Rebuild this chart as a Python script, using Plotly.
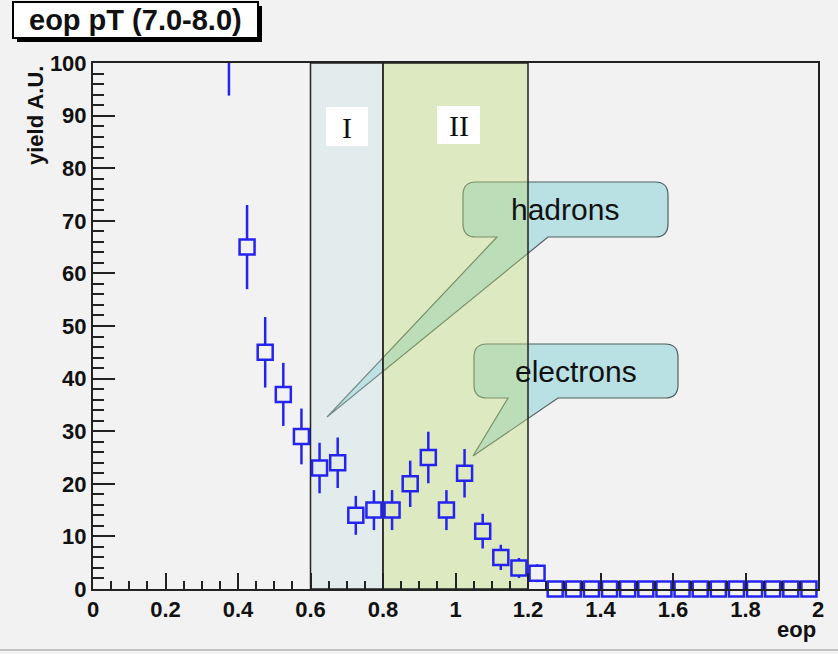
import plotly.graph_objects as go

# ---------------- data ----------------
eop_centers = [0.375, 0.425, 0.475, 0.525, 0.575, 0.625, 0.675, 0.725, 0.775,
               0.825, 0.875, 0.925, 0.975, 1.025, 1.075, 1.125, 1.175, 1.225,
               1.275, 1.325, 1.375, 1.425, 1.475, 1.525, 1.575, 1.625, 1.675,
               1.725, 1.775, 1.825, 1.875, 1.925, 1.975]
yield_vals = [104, 65, 45, 37, 29, 23, 24, 14, 15,
              15, 20, 25, 15, 22, 11, 6, 4, 3,
              0, 0, 0, 0, 0, 0, 0, 0, 0,
              0, 0, 0, 0, 0, 0]
yield_errs = [10.2, 8.0, 6.7, 6.0, 5.3, 4.8, 4.8, 3.7, 3.8,
              3.8, 4.4, 4.9, 3.8, 4.6, 3.3, 2.4, 1.9, 1.7,
              0, 0, 0, 0, 0, 0, 0, 0, 0,
              0, 0, 0, 0, 0, 0]

x_tickvals = [0, 0.2, 0.4, 0.6, 0.8, 1.0, 1.2, 1.4, 1.6, 1.8, 2.0]
x_ticktext = ["0", "0.2", "0.4", "0.6", "0.8", "1", "1.2", "1.4", "1.6", "1.8", "2"]
y_tickvals = [0, 10, 20, 30, 40, 50, 60, 70, 80, 90, 100]
y_ticktext = ["0", "10", "20", "30", "40", "50", "60", "70", "80", "90", "100"]

region_I = [0.6, 0.8]
region_II = [0.8, 1.2]
region_labels = ["I", "II"]
bubble_labels = ["hadrons", "electrons"]
title_text = "eop pT (7.0-8.0)"
x_title = "eop"
y_title = "yield A.U."

# ---------------- styles ----------------
W, H = 838, 654
L, R, T, B = 93, 20, 63, 65
BG = (242, 242, 242)
BLUE = "#2424ee"
REG_I_RGB, REG_I_A = (200, 225, 225), 0.35
REG_II_RGB, REG_II_A = (190, 220, 120), 0.40


def PX(px):
    return (px - L) / (W - L - R)


def PY(py):
    return (H - B - py) / (H - T - B)


def blend(rgb, a):
    return "rgb(%d,%d,%d)" % tuple(round(c * a + b * (1 - a)) for c, b in zip(rgb, BG))


def fill_for(x):
    if region_I[0] < x < region_I[1]:
        return blend(REG_I_RGB, REG_I_A)
    if region_II[0] < x < region_II[1]:
        return blend(REG_II_RGB, REG_II_A)
    return "rgb(242,242,242)"


def bubble_path(x0, y0, x1, y1, r, base_l, base_r, tip):
    pts = [
        ("M", [(x0 + r, y0)]),
        ("L", [(x1 - r, y0)]),
        ("Q", [(x1, y0), (x1, y0 + r)]),
        ("L", [(x1, y1 - r)]),
        ("Q", [(x1, y1), (x1 - r, y1)]),
        ("L", [(base_r, y1)]),
        ("L", [tip]),
        ("L", [(base_l, y1)]),
        ("L", [(x0 + r, y1)]),
        ("Q", [(x0, y1), (x0, y1 - r)]),
        ("L", [(x0, y0 + r)]),
        ("Q", [(x0, y0), (x0 + r, y0)]),
    ]
    s = ""
    for cmd, ps in pts:
        s += cmd + " " + " ".join("%.5f,%.5f" % (PX(a), PY(b)) for a, b in ps) + " "
    return s + "Z"


inside = [i for i, v in enumerate(yield_vals) if v <= 100]
outside = [i for i, v in enumerate(yield_vals) if v > 100]

fig = go.Figure()

fig.add_trace(go.Scatter(
    x=[eop_centers[i] for i in outside],
    y=[yield_vals[i] for i in outside],
    mode="markers",
    marker=dict(symbol="square", size=15, color="rgb(242,242,242)",
                line=dict(color=BLUE, width=2.5)),
    error_y=dict(type="data", array=[yield_errs[i] for i in outside],
                 color=BLUE, thickness=2.5, width=0),
    cliponaxis=True, hoverinfo="skip",
))

fig.add_trace(go.Scatter(
    x=[eop_centers[i] for i in inside],
    y=[yield_vals[i] for i in inside],
    mode="markers",
    marker=dict(symbol="square", size=15,
                color=[fill_for(eop_centers[i]) for i in inside],
                line=dict(color=BLUE, width=2.5)),
    error_y=dict(type="data", array=[yield_errs[i] for i in inside],
                 color=BLUE, thickness=2.5, width=0),
    cliponaxis=False, hoverinfo="skip",
))

shapes = []
# speech bubbles (under the shaded regions)
bubble_style = dict(type="path", xref="paper", yref="paper", layer="below",
                    fillcolor="#b9e0e3", line=dict(color="#4f5f5f", width=1.2))
shapes.append(dict(path=bubble_path(463, 182, 668, 237, 13, 497, 548, (327, 417)), **bubble_style))
shapes.append(dict(path=bubble_path(474, 344, 678, 398, 13, 508, 558, (473, 456)), **bubble_style))
# shaded regions
shapes.append(dict(type="rect", xref="x", yref="y", x0=region_I[0], x1=region_I[1], y0=0, y1=100,
                   fillcolor="rgba(%d,%d,%d,%s)" % (*REG_I_RGB, REG_I_A),
                   line=dict(color="#222", width=1.5), layer="below"))
shapes.append(dict(type="rect", xref="x", yref="y", x0=region_II[0], x1=region_II[1], y0=0, y1=100,
                   fillcolor="rgba(%d,%d,%d,%s)" % (*REG_II_RGB, REG_II_A),
                   line=dict(color="#222", width=1.5), layer="below"))
# white label boxes
shapes.append(dict(type="rect", xref="paper", yref="paper", x0=PX(326), x1=PX(368), y0=PY(146), y1=PY(107),
                   fillcolor="white", line=dict(width=0), layer="above"))
shapes.append(dict(type="rect", xref="paper", yref="paper", x0=PX(437), x1=PX(480), y0=PY(144), y1=PY(106),
                   fillcolor="white", line=dict(width=0), layer="above"))
# title box with shadow
shapes.append(dict(type="rect", xref="paper", yref="paper", x0=PX(17), x1=PX(262), y0=PY(42), y1=PY(6),
                   fillcolor="black", line=dict(width=0), layer="above"))
shapes.append(dict(type="rect", xref="paper", yref="paper", x0=PX(13), x1=PX(258), y0=PY(38), y1=PY(2),
                   fillcolor="white", line=dict(color="black", width=2), layer="above"))
# bottom edge line
shapes.append(dict(type="line", xref="paper", yref="paper", x0=PX(0), x1=PX(838), y0=PY(650), y1=PY(650),
                   line=dict(color="#c4c4c4", width=2), layer="above"))

bold = dict(family="Liberation Sans, Arial, sans-serif", color="#111", weight="bold")
annotations = [
    dict(text=title_text, x=PX(135.5), y=PY(20), xref="paper", yref="paper", showarrow=False,
         font=dict(size=29, **bold), xanchor="center", yanchor="middle"),
    dict(text=y_title, x=PX(35), y=PY(116), xref="paper", yref="paper", showarrow=False,
         textangle=-90, font=dict(size=22, **bold), xanchor="center", yanchor="middle"),
    dict(text=x_title, x=PX(796), y=PY(629), xref="paper", yref="paper", showarrow=False,
         font=dict(size=22, **bold), xanchor="center", yanchor="middle"),
    dict(text=region_labels[0], x=PX(347), y=PY(127), xref="paper", yref="paper", showarrow=False,
         font=dict(size=30, family="Liberation Serif, Times New Roman, serif", color="#111"),
         xanchor="center", yanchor="middle"),
    dict(text=region_labels[1], x=PX(458.5), y=PY(125), xref="paper", yref="paper", showarrow=False,
         font=dict(size=30, family="Liberation Serif, Times New Roman, serif", color="#111"),
         xanchor="center", yanchor="middle"),
    dict(text=bubble_labels[0], x=PX(565), y=PY(209), xref="paper", yref="paper", showarrow=False,
         font=dict(size=30, family="Liberation Sans, Arial, sans-serif", color="#111"),
         xanchor="center", yanchor="middle"),
    dict(text=bubble_labels[1], x=PX(575.5), y=PY(371), xref="paper", yref="paper", showarrow=False,
         font=dict(size=30, family="Liberation Sans, Arial, sans-serif", color="#111"),
         xanchor="center", yanchor="middle"),
]

tickfont = dict(size=22, **bold)
fig.update_layout(
    width=W, height=H,
    margin=dict(l=L, r=R, t=T, b=B, autoexpand=False),
    paper_bgcolor="#f2f2f2", plot_bgcolor="#f2f2f2",
    showlegend=False,
    shapes=shapes,
    annotations=annotations,
    xaxis=dict(range=[0, 2], tickvals=x_tickvals, ticktext=x_ticktext,
               ticks="inside", ticklen=16, tickwidth=2, tickcolor="#222",
               showline=True, linecolor="#222", linewidth=2, mirror=True,
               showgrid=False, zeroline=False, tickfont=tickfont,
               minor=dict(tick0=0, dtick=0.05, ticks="inside", ticklen=8, tickwidth=1.5,
                          tickcolor="#222", showgrid=False)),
    yaxis=dict(range=[0, 100], tickvals=y_tickvals, ticktext=y_ticktext,
               ticks="inside", ticklen=22, tickwidth=2, tickcolor="#222",
               showline=True, linecolor="#222", linewidth=2, mirror=True,
               showgrid=False, zeroline=False, tickfont=tickfont,
               minor=dict(tick0=0, dtick=2, ticks="inside", ticklen=11, tickwidth=1.5,
                          tickcolor="#222", showgrid=False)),
)

fig.write_html("out.html", config={"displayModeBar": False},
               post_script="document.body.style.margin='0px';")
